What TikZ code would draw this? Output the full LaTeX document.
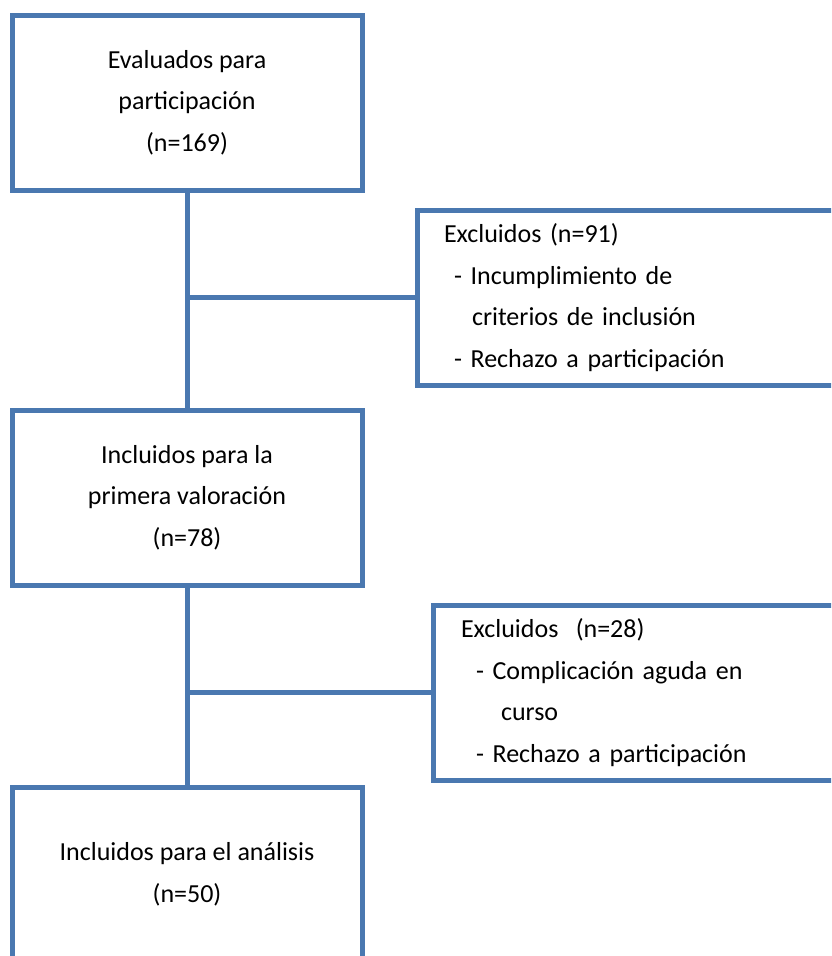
\documentclass[tikz,border=0pt]{standalone}
\usepackage{fontspec}
\setmainfont{Carlito}
\usetikzlibrary{positioning, calc}
\definecolor{boxblue}{HTML}{4A78B0}

\begin{document}
\begin{tikzpicture}[
			x=1pt, y=-1pt,
			flowbox/.style={
				draw=boxblue, line width=5pt, fill=white, align=center,
				minimum width=350pt, minimum height=175pt, inner sep=0pt, outer sep=0pt,
				font=\fontsize{26}{41.5}\selectfont
			},
			exclbox/.style={
				draw=boxblue, line width=5pt, align=left, anchor=west,
				text width=460pt, inner ysep=0pt, outer sep=0pt,
				minimum height=175pt, font=\fontsize{26}{41.5}\selectfont
			},
			link/.style={draw=boxblue, line width=5pt}
			]
			\clip (0,0) rectangle (831,956);
			
			% 1. MAIN COLUMN
			\node[flowbox] (eval) at (187,102.5) {Evaluados para \\ participación \\ (n=169)};
			\node[flowbox, below=220pt of eval] (incl) {Incluidos para la \\ primera valoración \\ (n=78)};
			\node[flowbox, below=202pt of incl] (anal) {Incluidos para el análisis \\ (n=50)};
			\draw[link] (eval.south) -- (incl.north);
			\draw[link] (incl.south) -- (anal.north);
			
			% 2. FIRST EXCLUSION (Right)
			\node[exclbox, inner xsep=27pt] (excl1) at (417,297.5) {
				Excluidos (n=91) \\
				\hspace*{10pt}- Incumplimiento de \\
				\hspace*{28pt}criterios de inclusión \\
				\hspace*{10pt}- Rechazo a participación
			};
			\coordinate (branch1) at (eval.south |- excl1.west);
			\draw[link] (branch1) -- (excl1.west);
			
			% 3. SECOND EXCLUSION (Right)
			\node[exclbox, inner xsep=28pt] (excl2) at (433,692.5) {
				Excluidos\ \ (n=28) \\
				\hspace*{15pt}- Complicación aguda en \\
				\hspace*{40pt}curso \\
				\hspace*{15pt}- Rechazo a participación
			};
			\coordinate (branch2) at (incl.south |- excl2.west);
			\draw[link] (branch2) -- (excl2.west);
		\end{tikzpicture}
\end{document}
